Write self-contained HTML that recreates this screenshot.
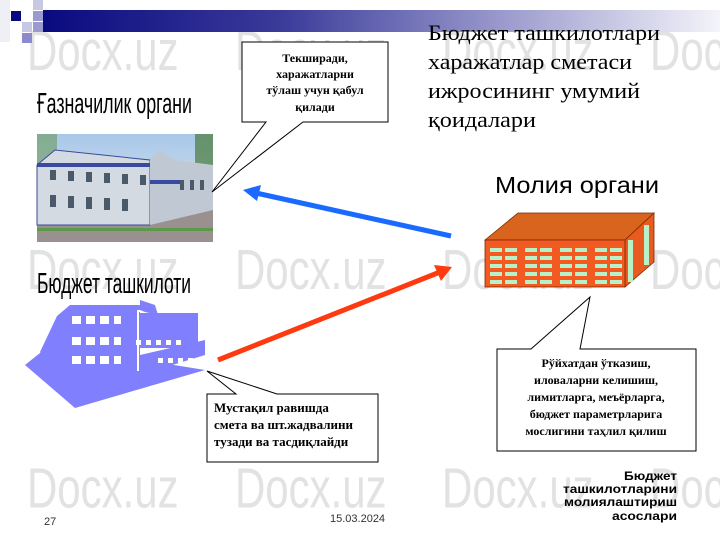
<!DOCTYPE html>
<html><head><meta charset="utf-8"><style>
html,body{margin:0;padding:0;width:720px;height:540px;overflow:hidden;background:#fff}
svg{display:block}
</style></head><body>
<svg width="720" height="540" viewBox="0 0 720 540" xmlns="http://www.w3.org/2000/svg">
<defs>
<linearGradient id="bar" x1="0" x2="1" y1="0" y2="0">
<stop offset="0" stop-color="#0a0a80"/><stop offset="0.35" stop-color="#3a3a9a"/><stop offset="0.7" stop-color="#a0a0d0"/><stop offset="1" stop-color="#f4f4fa"/></linearGradient>
<linearGradient id="sky" x1="0" x2="0" y1="0" y2="1"><stop offset="0" stop-color="#a8c8e8"/><stop offset="1" stop-color="#e8eef4"/></linearGradient>
</defs>
<g font-family="Liberation Sans, sans-serif" font-size="42" fill="#e2e2e2" transform="scale(1,1.35)">
<text x="27" y="52">Docx.uz</text><text x="235" y="52">Docx.uz</text><text x="442" y="52">Docx.uz</text><text x="650" y="52">Docx.uz</text>
<text x="27" y="214">Docx.uz</text><text x="235" y="214">Docx.uz</text><text x="442" y="214">Docx.uz</text><text x="650" y="214">Docx.uz</text>
<text x="27" y="376">Docx.uz</text><text x="235" y="376">Docx.uz</text><text x="442" y="376">Docx.uz</text><text x="650" y="376">Docx.uz</text>
</g>
<rect x="43" y="10" width="677" height="22" fill="url(#bar)"/>
<rect x="11" y="11" width="10" height="10" fill="#0a0a80"/>
<rect x="33" y="0" width="10" height="10" fill="#c8c8e4"/>
<rect x="33" y="11" width="10" height="10" fill="#9a9ad0"/>
<rect x="22" y="22" width="10" height="10" fill="#c8c8e4"/>
<rect x="33" y="22" width="10" height="10" fill="#9a9ad0"/>
<rect x="22" y="33" width="10" height="10" fill="#8a8acc"/>
<rect x="0" y="0" width="10" height="42" fill="#e4e4f0" opacity="0.6"/>
<g font-family="Liberation Serif, serif" font-size="22" fill="#000" lengthAdjust="spacingAndGlyphs">
<text x="428" y="40" textLength="232" lengthAdjust="spacingAndGlyphs">Бюджет ташкилотлари</text>
<text x="428" y="69" textLength="204" lengthAdjust="spacingAndGlyphs">харажатлар сметаси</text>
<text x="428" y="98" textLength="212" lengthAdjust="spacingAndGlyphs">ижросининг умумий</text>
<text x="428" y="127" textLength="108" lengthAdjust="spacingAndGlyphs">қоидалари</text>
</g>
<text x="37" y="113" font-family="Liberation Sans, sans-serif" font-size="29" textLength="155" lengthAdjust="spacingAndGlyphs">Ғазначилик органи</text>
<text x="37" y="293" font-family="Liberation Sans, sans-serif" font-size="29" textLength="154" lengthAdjust="spacingAndGlyphs">Бюджет ташкилоти</text>
<text x="495" y="193" font-family="Liberation Sans, sans-serif" font-size="23" textLength="164" lengthAdjust="spacingAndGlyphs">Молия органи</text>
<rect x="37" y="134" width="176" height="108" fill="url(#sky)"/>
<rect x="37" y="134" width="20" height="40" fill="#6a9a5a" opacity="0.6"/>
<rect x="195" y="134" width="18" height="50" fill="#4a7a3a" opacity="0.7"/>
<polygon points="37,220 213,200 213,242 37,242" fill="#9a9090"/>
<polygon points="37,165 55,150 150,160 150,225 37,225" fill="#d4dae2" stroke="#3a4a9a" stroke-width="1"/>
<polygon points="150,160 160,150 175,160 213,165 213,210 150,225" fill="#c0c8d4"/>
<rect x="37" y="163" width="113" height="4" fill="#3a4aa0"/>
<rect x="150" y="180" width="30" height="4" fill="#3a4aa0"/>
<g fill="#4a5a6a">
<rect x="50" y="170" width="6" height="10"/><rect x="68" y="171" width="6" height="10"/><rect x="86" y="172" width="6" height="10"/><rect x="104" y="173" width="6" height="10"/><rect x="122" y="174" width="6" height="10"/><rect x="140" y="175" width="6" height="10"/>
<rect x="50" y="195" width="6" height="12"/><rect x="68" y="196" width="6" height="12"/><rect x="86" y="197" width="6" height="12"/><rect x="104" y="198" width="6" height="12"/><rect x="122" y="199" width="6" height="12"/>
<rect x="180" y="180" width="4" height="10"/><rect x="190" y="180" width="4" height="10"/><rect x="200" y="180" width="4" height="10"/>
</g>
<rect x="37" y="228" width="176" height="3" fill="#5a9a4a"/>
<polygon points="242,42 388,42 388,122 303,122 212,192 266,122 242,122" fill="#fff" stroke="#000" stroke-width="1"/>
<g font-family="Liberation Serif, serif" font-size="12" font-weight="bold" text-anchor="middle">
<text x="315" y="62">Текширади,</text><text x="315" y="78">харажатларни</text><text x="315" y="94">тўлаш учун қабул</text><text x="315" y="111">қилади</text>
</g>
<polygon points="485,240 518,213 654,213 625,240" fill="#d8641e" stroke="#7a2a00" stroke-width="0.8"/>
<polygon points="625,240 654,213 654,262 625,287" fill="#e85a20" stroke="#7a2a00" stroke-width="0.8"/>
<rect x="485" y="240" width="140" height="47" fill="#f25a22" stroke="#7a2a00" stroke-width="0.8"/>
<g fill="#b8f0c8">
<g id="row"><rect x="490" y="248" width="12" height="4"/><rect x="505" y="248" width="12" height="4"/><rect x="525" y="248" width="12" height="4"/><rect x="540" y="248" width="12" height="4"/><rect x="560" y="248" width="12" height="4"/><rect x="575" y="248" width="12" height="4"/><rect x="595" y="248" width="12" height="4"/><rect x="610" y="248" width="12" height="4"/></g>
<use href="#row" y="8"/><use href="#row" y="16"/><use href="#row" y="24"/><use href="#row" y="32"/>
<rect x="628" y="240" width="5" height="42"/><rect x="644" y="225" width="5" height="40"/>
</g>
<line x1="451" y1="236" x2="256" y2="193" stroke="#1a6aff" stroke-width="5"/>
<polygon points="243,190 261,185 257,201" fill="#1a6aff"/>
<line x1="218" y1="360" x2="440" y2="272" stroke="#ff3a10" stroke-width="5"/>
<polygon points="452,267 441,281 434,265" fill="#ff3a10"/>
<g fill="#8080ff">
<polygon points="25,365 50,345 205,370 75,408"/>
<polygon points="40,352 57,316 70,305 140,305 140,355 205,340 205,355 75,395"/>
<rect x="138" y="313" width="60" height="35"/>
</g>
<g fill="#fff">
<rect x="72" y="316" width="9" height="8"/><rect x="86" y="316" width="9" height="8"/><rect x="100" y="316" width="9" height="8"/><rect x="114" y="316" width="7" height="8"/>
<rect x="72" y="337" width="9" height="8"/><rect x="86" y="337" width="9" height="8"/><rect x="100" y="337" width="9" height="8"/><rect x="114" y="337" width="7" height="8"/>
<rect x="72" y="356" width="9" height="8"/><rect x="86" y="356" width="9" height="8"/><rect x="100" y="356" width="9" height="8"/><rect x="114" y="356" width="7" height="8"/>
<rect x="136" y="340" width="5" height="5"/><rect x="146" y="340" width="5" height="5"/><rect x="156" y="340" width="5" height="5"/><rect x="166" y="340" width="5" height="5"/><rect x="176" y="340" width="5" height="5"/>
<rect x="158" y="358" width="5" height="5"/><rect x="168" y="358" width="5" height="5"/><rect x="178" y="358" width="5" height="5"/><rect x="188" y="358" width="5" height="5"/>
<rect x="137" y="310" width="60" height="2"/><rect x="137" y="311" width="2" height="60"/>
</g>
<polygon points="140,310 140,300 155,305 158,315 145,312" fill="#8080ff"/>
<polygon points="207,394 236,394 207,371 277,394 378,394 378,462 207,462" fill="#fff" stroke="#000" stroke-width="1"/>
<g font-family="Liberation Serif, serif" font-size="13" font-weight="bold">
<text x="214" y="412">Мустақил равишда</text><text x="214" y="429">смета ва шт.жадвалини</text><text x="214" y="446">тузади ва тасдиқлайди</text>
</g>
<polygon points="497,349 531,349 590,297 580,349 696,349 696,451 497,451" fill="#fff" stroke="#000" stroke-width="1"/>
<g font-family="Liberation Serif, serif" font-size="12" font-weight="bold" text-anchor="middle">
<text x="596" y="367">Рўйхатдан ўтказиш,</text><text x="596" y="384">иловаларни келишиш,</text><text x="596" y="401">лимитларга, меъёрларга,</text><text x="596" y="418">бюджет параметрларига</text><text x="596" y="435">мослигини таҳлил қилиш</text>
</g>
<g font-family="Liberation Sans, sans-serif" font-size="12" font-weight="bold">
<text x="624" y="480" textLength="53" lengthAdjust="spacingAndGlyphs">Бюджет</text>
<text x="563" y="493" textLength="114" lengthAdjust="spacingAndGlyphs">ташкилотларини</text>
<text x="564" y="506" textLength="113" lengthAdjust="spacingAndGlyphs">молиялаштириш</text>
<text x="612" y="520" textLength="65" lengthAdjust="spacingAndGlyphs">асослари</text>
</g>
<text x="44" y="525" font-family="Liberation Sans, sans-serif" font-size="11" fill="#333">27</text>
<text x="330" y="522" font-family="Liberation Sans, sans-serif" font-size="11" fill="#333">15.03.2024</text>
</svg>
</body></html>
